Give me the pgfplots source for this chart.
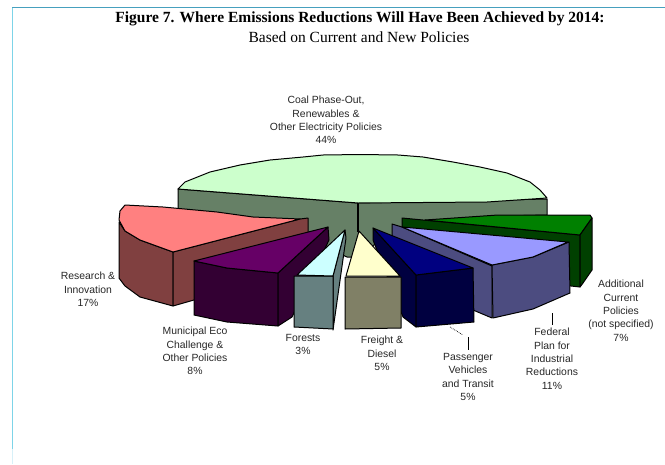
\documentclass[border=0pt]{standalone}
\usepackage{fontspec}
\setmainfont{Liberation Sans}
\newfontfamily\tf{Liberation Serif}
\usepackage{pgfplots}
\pgfplotsset{compat=1.18}
\definecolor{gt}{RGB}{204,255,204}\definecolor{gw}{RGB}{102,128,102}
\definecolor{rt}{RGB}{255,128,128}\definecolor{rw}{RGB}{128,64,64}
\definecolor{pt}{RGB}{102,0,102}\definecolor{pw}{RGB}{51,0,51}
\definecolor{ct}{RGB}{204,255,255}\definecolor{cw}{RGB}{102,128,128}
\definecolor{yt}{RGB}{255,255,204}\definecolor{yw}{RGB}{128,128,102}
\definecolor{nt}{RGB}{0,0,128}\definecolor{nw}{RGB}{0,0,64}
\definecolor{bt}{RGB}{153,153,255}\definecolor{bw}{RGB}{76,76,128}
\definecolor{dt}{RGB}{0,128,0}\definecolor{dw}{RGB}{0,64,0}
\tikzset{lab/.style={align=center,font=\fontsize{10.4}{13.4}\selectfont,text=black!85,inner sep=0pt,anchor=north}}
\begin{document}
\begin{tikzpicture}
\useasboundingbox (0,0) rectangle (665pt,464pt);
\begin{axis}[at={(0,0)},anchor=south west,x=1pt,y=1pt,xmin=0,xmax=665,ymin=0,ymax=464,y dir=reverse,
  hide axis,clip=false,
  every axis plot/.append style={line width=1pt,draw=black,mark=none,line join=round}]
% frame
\addplot[draw={rgb,255:red,70;green,160;blue,190},line width=1pt] coordinates {(12,7.5)(665,7.5)};
\addplot[draw={rgb,255:red,125;green,212;blue,232},line width=1.4pt] coordinates {(12.5,7.5)(12.5,449)};
\addplot[draw={rgb,255:red,215;green,240;blue,248},line width=1.4pt] coordinates {(12.5,449)(12.5,464)};
% coal wall and top
\addplot[fill=gw] coordinates {(178,189)(358,203)(547,199)(547,215)(500,216)(392,236)(372,246)(358,257)(347,257)(300,236)(178,210)} -- cycle;
\addplot[line width=1.1pt] coordinates {(358,203)(358,232)};
\addplot[fill=gt] coordinates {(178,189)(185,182)(210,172)(240,165)(270,160)(303,157)(323,155)(360,154.5)(398,155)(423,157)(453,162)(480,167)(507,173)(530,182)(540,190)(547,198)(487,202)(358,203)} -- cycle;
% additional current policies
\addplot[fill=dw] coordinates {(402,218)(580,235)(580,287)(571,286)(402,250)} -- cycle;
\addplot[fill=dt] coordinates {(425,220)(498,215)(590,215)(592,218)(580,235)} -- cycle;
\addplot[fill=dw] coordinates {(580,235)(592,218)(592,270)(583,283)(580,287)} -- cycle;
% research
\addplot[fill=rw] coordinates {(119,222)(125,231)(140,240)(173,252)(173,306)(140,297)(125,286)(119,278)} -- cycle;
\addplot[fill=rw] coordinates {(173,252)(300,219)(308,218)(308,234)(194,300)(173,306)} -- cycle;
\addplot[fill=rt] coordinates {(119,220)(120,211)(125,205)(163,207)(217,212)(253,217)(300,219)(173,252)(140,240)(125,231)} -- cycle;
% municipal
\addplot[fill=pw] coordinates {(194,261)(227,268)(278,273)(278,326)(227,322)(194,315)} -- cycle;
\addplot[fill=pw] coordinates {(278,273)(328,227)(329,240)(292,317)(278,326)} -- cycle;
\addplot[fill=pt] coordinates {(194,261)(328,227)(278,273)(227,268)} -- cycle;
% federal
\addplot[fill=bw] coordinates {(392,224)(402,227)(492,266)(492,318)(473,310)(392,240)} -- cycle;
\addplot[fill=bw] coordinates {(492,265)(533,257)(569,242)(570,293)(533,309)(493,318)} -- cycle;
\addplot[fill=bt] coordinates {(402,227)(568,242)(533,257)(492,265)} -- cycle;
% passenger
\addplot[fill=nw] coordinates {(373,228)(416,275)(416,327)(403,317)(373,240)} -- cycle;
\addplot[fill=nw] coordinates {(416,275)(473,268)(474,322)(416,327)} -- cycle;
\addplot[fill=nt] coordinates {(373,228)(473,268)(416,275)} -- cycle;
% forests
\addplot[fill=cw] coordinates {(333,276)(345,230)(346,238)(333,330)} -- cycle;
\addplot[fill=cw] coordinates {(294,276)(333,276)(333,329)(294,327)} -- cycle;
\addplot[fill=ct] coordinates {(345,230)(333,276)(297,275)} -- cycle;
% freight
\addplot[fill=yw] coordinates {(345,277)(401,277)(401,328)(345,329)} -- cycle;
\addplot[fill=yt] coordinates {(359,231)(400,276)(346,276)} -- cycle;
% leaders
\addplot[line width=0.8pt] coordinates {(552,313)(552,325)};
\addplot[line width=0.8pt] coordinates {(468,337)(468,350)};
\addplot[line width=0.7pt,densely dotted] coordinates {(450,327)(463,335)};
% text
\node[anchor=center,font=\tf\bfseries\fontsize{15.5}{17}\selectfont] at (axis cs:360,19) {Figure 7. Where Emissions Reductions Will Have Been Achieved by 2014:};
\node[anchor=center,font=\tf\fontsize{15.5}{17}\selectfont] at (axis cs:359,37) {Based on Current and New Policies};
\node[lab] at (axis cs:326,96) {Coal Phase-Out,\\Renewables \&\\Other Electricity Policies\\44\%};
\node[lab] at (axis cs:88,272) {Research \&\\Innovation\\17\%};
\node[lab] at (axis cs:195,327) {Municipal Eco\\Challenge \&\\Other Policies\\8\%};
\node[lab] at (axis cs:303,334) {Forests\\3\%};
\node[lab] at (axis cs:382,336) {Freight \&\\Diesel\\5\%};
\node[lab] at (axis cs:468,353) {Passenger\\Vehicles\\and Transit\\5\%};
\node[lab] at (axis cs:552,328) {Federal\\Plan for\\Industrial\\Reductions\\11\%};
\node[lab] at (axis cs:621,280) {Additional\\Current\\Policies\\(not specified)\\7\%};
\end{axis}
\end{tikzpicture}
\end{document}
